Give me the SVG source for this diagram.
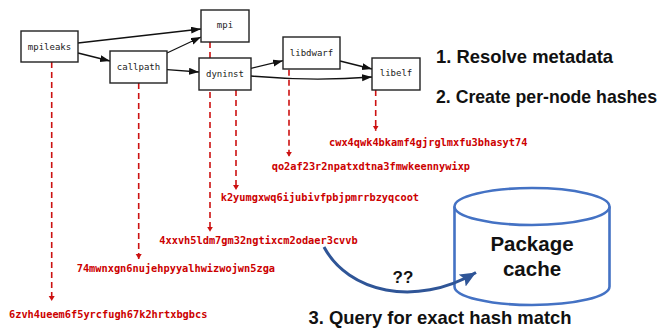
<svg xmlns="http://www.w3.org/2000/svg" width="668" height="331" viewBox="0 0 668 331">
<style>
.node rect{fill:#fff;stroke:#222;stroke-width:1.4}
.node text{font-family:"DejaVu Sans Mono","Liberation Mono",monospace;font-size:9px;fill:#222;text-anchor:middle}
.edge{fill:none;stroke:#111;stroke-width:1.3;marker-end:url(#ah)}
.dash{fill:none;stroke:#cc1111;stroke-width:1.6;stroke-dasharray:6 4;marker-end:url(#rh)}
.hash{font-family:"DejaVu Sans Mono","Liberation Mono",monospace;font-size:10.3px;font-weight:bold;fill:#cc0000}
.step{font-family:"Liberation Sans",Arial,sans-serif;font-size:18.2px;font-weight:bold;fill:#111}
.cyl{fill:#fff;stroke:#4472c4;stroke-width:2.6}
</style>
<defs>
<marker id="ah" markerUnits="userSpaceOnUse" markerWidth="11" markerHeight="8" refX="10" refY="3.5" orient="auto"><path d="M0,0 L10,3.5 L0,7 z" fill="#111"/></marker>
<marker id="rh" markerUnits="userSpaceOnUse" markerWidth="6" markerHeight="7" refX="5" refY="3" orient="auto"><path d="M0,0 L5,3 L0,6 z" fill="#cc1111"/></marker>
<marker id="bh" markerUnits="userSpaceOnUse" markerWidth="18" markerHeight="16" refX="16" refY="7" orient="auto"><path d="M0,0 L16,7 L0,14 L3,7 z" fill="#2f5597"/></marker>
</defs>
<g id="connectors">
<path class="dash" d="M51.7,62 V301"/>
<path class="dash" d="M138.7,83 V259"/>
<path class="dash" d="M210,42 V231.7"/>
<path class="dash" d="M236,90 V190"/>
<path class="dash" d="M289,69.7 V156.7"/>
<path class="dash" d="M375.7,90 V130.7"/>
<path class="edge" d="M78,43 L201,29"/>
<path class="edge" d="M78,53 L110,61"/>
<path class="edge" d="M167,53 L201,37"/>
<path class="edge" d="M167,69.7 L199,72"/>
<path class="edge" d="M251,68.3 L283,60.7"/>
<path class="edge" d="M251,76 Q312,81.5 372,77"/>
<path class="edge" d="M340,61 L372,69"/>
</g>
<g id="mpileaks" class="node"><rect x="21" y="31" width="57" height="31"/><text x="49.5" y="49.7">mpileaks</text></g>
<g id="mpi" class="node"><rect x="201" y="10" width="48" height="32"/><text x="225" y="28.3">mpi</text></g>
<g id="callpath" class="node"><rect x="110" y="51" width="57" height="32"/><text x="138.5" y="69.7">callpath</text></g>
<g id="dyninst" class="node"><rect x="199" y="58" width="52" height="32"/><text x="225" y="77">dyninst</text></g>
<g id="libdwarf" class="node"><rect x="283" y="37" width="57" height="32"/><text x="311.5" y="56.3">libdwarf</text></g>
<g id="libelf" class="node"><rect x="372" y="58" width="48" height="32"/><text x="396" y="76.3">libelf</text></g>
<g id="hashes">
<text class="hash" x="9" y="317.5">6zvh4ueem6f5yrcfugh67k2hrtxbgbcs</text>
<text class="hash" x="76.7" y="271.5">74mwnxgn6nujehpyyalhwizwojwn5zga</text>
<text class="hash" x="159.3" y="244">4xxvh5ldm7gm32ngtixcm2odaer3cvvb</text>
<text class="hash" x="220.7" y="200.7">k2yumgxwq6ijubivfpbjpmrrbzyqcoot</text>
<text class="hash" x="271.7" y="170">qo2af23r2npatxdtna3fmwkeennywixp</text>
<text class="hash" x="329" y="145.7">cwx4qwk4bkamf4gjrglmxfu3bhasyt74</text>
</g>
<g id="steps">
<text class="step" x="436" y="62.7" textLength="177" lengthAdjust="spacingAndGlyphs">1. Resolve metadata</text>
<text class="step" x="436" y="103.3" textLength="221" lengthAdjust="spacingAndGlyphs">2. Create per-node hashes</text>
<text class="step" x="308.5" y="324" textLength="263" lengthAdjust="spacingAndGlyphs">3. Query for exact hash match</text>
</g>
<g id="cache">
<path class="cyl" d="M454.5,206.5 V286.5 A77.5,18.5 0 0 0 609.5,286.5 V206.5"/>
<ellipse class="cyl" cx="532" cy="206.5" rx="77.5" ry="18.5"/>
<text x="532" y="251" text-anchor="middle" font-family="Liberation Sans,Arial,sans-serif" font-size="20.5" font-weight="bold" fill="#111">Package</text>
<text x="532" y="276" text-anchor="middle" font-family="Liberation Sans,Arial,sans-serif" font-size="20.5" font-weight="bold" fill="#111">cache</text>
</g>
<g id="query">
<path d="M324,247 C348,292 415,308 476,272.5" fill="none" stroke="#2f5597" stroke-width="3" marker-end="url(#bh)"/>
<text x="403" y="283" text-anchor="middle" font-family="Liberation Sans,Arial,sans-serif" font-size="17" font-weight="bold" fill="#111">??</text>
</g>
</svg>
